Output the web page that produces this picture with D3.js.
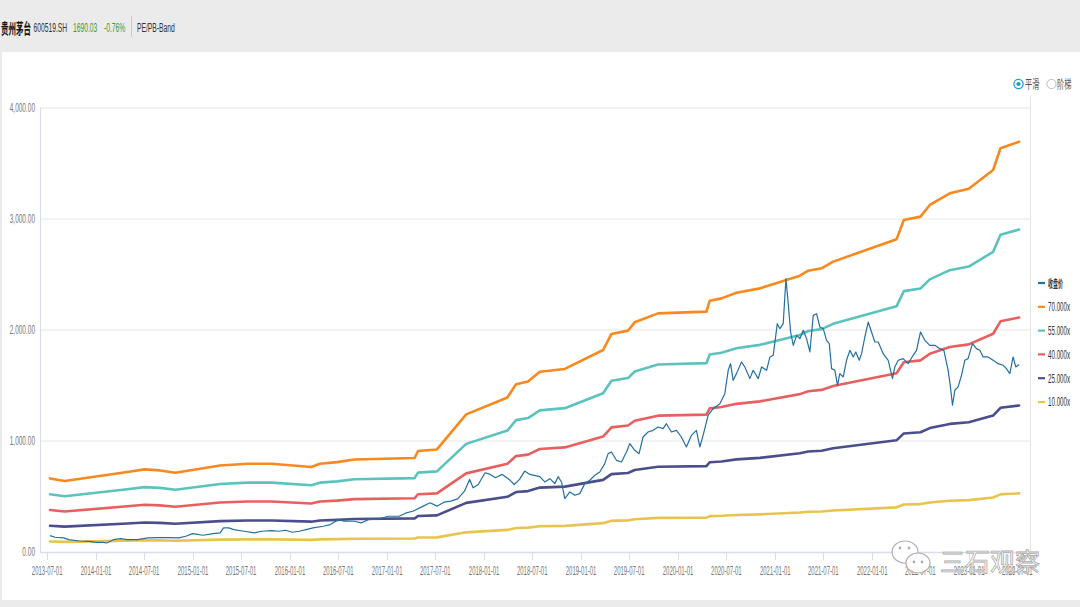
<!DOCTYPE html>
<html><head><meta charset="utf-8">
<script src="https://cdn.jsdelivr.net/npm/d3@7"></script>
<style>
html,body{margin:0;padding:0;background:#fff;}
svg{display:block;font-family:"Liberation Sans","Noto Sans CJK SC",sans-serif;}
</style></head><body>
<svg id="chart" width="1080" height="607"></svg>
<script>
// ---------------- DATA ----------------
const stockName = "贵州茅台";
const stockCode = "600519.SH";
const lastPrice = "1690.03";
const changePct = "-0.76%";
const chartTitle = "PE/PB-Band";
const modeLabels = ["平滑", "阶梯"];

const seriesNames = ["收盘价", "70.000x", "55.000x", "40.000x", "25.000x", "10.000x"];
const multiples = [70, 55, 40, 25, 10];
const seriesColors = ["#23709f", "#f7891f", "#5cc2bd", "#e7605f", "#4a4e8c", "#e8c44e"];

const epsYears = [2013.525, 2013.676, 2014.323, 2014.500, 2014.659, 2014.818, 2015.279, 2015.564, 2015.811, 2016.219, 2016.308, 2016.485, 2016.662, 2017.283, 2017.318, 2017.513, 2017.815, 2018.240, 2018.329, 2018.453, 2018.574, 2018.832, 2019.227, 2019.313, 2019.484, 2019.553, 2019.793, 2020.292, 2020.326, 2020.447, 2020.601, 2020.842, 2021.254, 2021.340, 2021.478, 2021.597, 2022.251, 2022.326, 2022.498, 2022.594, 2022.800, 2022.996, 2023.247, 2023.323, 2023.515];
const eps = [9.47, 9.13, 10.29, 10.63, 10.50, 10.20, 11.14, 11.36, 11.36, 10.93, 11.36, 11.57, 11.91, 12.10, 13.00, 13.20, 17.71, 19.89, 21.60, 21.94, 23.20, 23.56, 26.00, 28.06, 28.49, 29.56, 30.71, 30.93, 32.34, 32.64, 33.37, 33.93, 35.56, 36.20, 36.51, 37.37, 40.24, 42.73, 43.16, 44.66, 46.16, 46.76, 49.16, 51.96, 52.81];

// Close price (adjusted), dates as decimal years
const priceYears = [2013.524,2013.578,2013.666,2013.719,2013.826,2013.932,2014.003,2014.074,2014.109,2014.180,2014.251,2014.322,2014.429,2014.535,2014.641,2014.748,2014.854,2014.925,2014.996,2015.102,2015.209,2015.280,2015.315,2015.368,2015.421,2015.528,2015.634,2015.705,2015.812,2015.883,2015.953,2016.024,2016.095,2016.166,2016.237,2016.343,2016.414,2016.503,2016.556,2016.663,2016.733,2016.804,2016.911,2017.017,2017.124,2017.194,2017.265,2017.372,2017.443,2017.514,2017.585,2017.656,2017.727,2017.797,2017.851,2017.886,2017.939,2018.010,2018.063,2018.116,2018.187,2018.258,2018.311,2018.365,2018.418,2018.471,
2018.574,2018.626,2018.678,2018.729,2018.763,2018.798,2018.832,2018.884,2018.935,2018.987,2019.038,2019.090,2019.141,2019.193,2019.244,2019.279,2019.313,2019.365,2019.416,2019.468,2019.502,2019.554,2019.598,2019.639,2019.691,2019.743,2019.794,2019.846,2019.880,2019.931,2019.983,2020.034,2020.086,2020.138,2020.189,2020.224,2020.258,2020.309,2020.361,2020.430,2020.481,2020.516,2020.540,2020.567,2020.601,2020.653,2020.687,2020.739,2020.773,2020.825,2020.859,2020.911,2020.945,2020.979,2021.021,2021.048,2021.082,2021.110,2021.134,2021.158,2021.186,2021.220,2021.254,2021.289,2021.323,2021.357,2021.392,2021.426,2021.460,2021.495,2021.529,2021.557,2021.581,2021.615,2021.642,2021.666,2021.701,2021.735,2021.770,2021.804,2021.831,2021.866,2021.890,2021.924,2021.959,2021.993,2022.027,2022.062,2022.113,2022.165,2022.209,2022.233,2022.268,2022.319,2022.371,2022.422,2022.457,2022.498,2022.543,2022.594,2022.646,2022.697,2022.739,2022.783,2022.807,2022.828,2022.852,2022.886,2022.921,2022.955,2022.989,2023.034,2023.075,2023.110,2023.144,2023.195,2023.247,2023.298,2023.350,2023.384,2023.419,2023.453,2023.481,2023.515];
const prices = [148,133,127,111,99,96,87,87,81,111,120,111,111,127,130,130,127,142,166,151,166,172,217,217,202,187,172,187,193,187,196,178,187,202,217,232,247,292,277,277,262,292,298,322,322,352,367,413,443,413,449,458,479,548,654,578,608,714,699,669,699,654,608,654,729,699,
679,631,661,616,679,631,481,541,511,526,616,646,691,721,796,886,901,826,811,901,976,916,886,1036,1081,1096,1126,1111,1156,1081,1096,1036,946,1051,1096,946,1051,1231,1291,1336,1426,1637,1697,1547,1607,1712,1667,1562,1637,1562,1667,1637,1757,1772,2057,2012,2057,2462,2237,1982,1862,1952,1922,1997,1922,1802,2132,2147,2027,2012,1907,1877,1652,1637,1502,1607,1577,1727,1817,1757,1802,1727,1787,1937,2072,1982,1892,1892,1787,1727,1562,1667,1727,1742,1697,1772,1817,1982,1907,1862,1862,1832,1817,1637,1487,1322,1457,1487,1592,1727,1742,1877,1832,1817,1757,1757,1727,1697,1682,1652,1607,1757,1667,1690.03];

const yTicks = [0, 1000, 2000, 3000, 4000];
const xTickLabels = ["2013-07-01","2014-01-01","2014-07-01","2015-01-01","2015-07-01","2016-01-01","2016-07-01","2017-01-01","2017-07-01","2018-01-01","2018-07-01","2019-01-01","2019-07-01","2020-01-01","2020-07-01","2021-01-01","2021-07-01","2022-01-01","2022-07-01","2023-01-01","2023-07-01"];
const watermark = "三石观察";

// ---------------- HELPERS ----------------
function decYear(t) {
  const y = Math.floor(t);
  const a = Date.UTC(y, 0, 1), b = Date.UTC(y + 1, 0, 1);
  return new Date(a + (t - y) * (b - a));
}
const svg = d3.select("#chart");
function txt(g, x, y, s, o = {}) {
  const t = g.append("text")
    .attr("transform", `translate(${x},${y}) scale(${o.sx ?? 0.55},1)`)
    .attr("text-anchor", o.anchor || "start")
    .attr("dominant-baseline", "central")
    .attr("font-size", o.size || 12)
    .attr("fill", o.fill || "#666")
    .text(s);
  if (o.weight) t.attr("font-weight", o.weight);
  if (o.family) t.attr("font-family", o.family);
  return t;
}

// ---------------- BACKGROUND / HEADER ----------------
svg.append("rect").attr("x", 0).attr("y", 0).attr("width", 1080).attr("height", 607).attr("fill", "#ebebeb");
svg.append("rect").attr("x", 2).attr("y", 52).attr("width", 1078).attr("height", 548).attr("fill", "#ffffff");

const hdr = svg.append("g");
txt(hdr, 1, 27, stockName, {size: 15, sx: 0.5, fill: "#111", weight: "bold", family: "Noto Sans CJK SC"});
txt(hdr, 33.5, 27, stockCode, {size: 13.5, sx: 0.5, fill: "#333"});
txt(hdr, 73, 27, lastPrice, {size: 13.5, sx: 0.5, fill: "#3a9a3a"});
txt(hdr, 104, 27, changePct, {size: 13.5, sx: 0.5, fill: "#3a9a3a"});
hdr.append("line").attr("x1", 131.5).attr("x2", 131.5).attr("y1", 16).attr("y2", 37).attr("stroke", "#c8c8c8");
txt(hdr, 137, 27, chartTitle, {size: 13.5, sx: 0.5, fill: "#333"});

// radio buttons
const rg = svg.append("g");
rg.append("circle").attr("cx", 1018.5).attr("cy", 84).attr("r", 4.6).attr("fill", "none").attr("stroke", "#1aa0c8").attr("stroke-width", 1.3);
rg.append("circle").attr("cx", 1018.5).attr("cy", 84).attr("r", 2.1).attr("fill", "#1aa0c8");
txt(rg, 1025, 84, modeLabels[0], {size: 12, sx: 0.6, fill: "#555", family: "Noto Sans CJK SC"});
rg.append("circle").attr("cx", 1051.5).attr("cy", 84).attr("r", 4.6).attr("fill", "none").attr("stroke", "#bbbbbb").attr("stroke-width", 1);
txt(rg, 1057, 84, modeLabels[1], {size: 12, sx: 0.6, fill: "#555", family: "Noto Sans CJK SC"});

// ---------------- SCALES ----------------
const x = d3.scaleUtc().domain([new Date(Date.UTC(2013, 5, 4)), new Date(Date.UTC(2023, 7, 18))]).range([40, 1030]);
const y = d3.scaleLinear().domain([0, 4000]).range([552, 108]);

// grid
const grid = svg.append("g");
grid.selectAll("line").data(yTicks.filter(d => d > 0)).join("line")
  .attr("x1", 40).attr("x2", 1030).attr("y1", d => y(d)).attr("y2", d => y(d))
  .attr("stroke", "#e6e6e6").attr("stroke-width", 1);
svg.append("line").attr("x1", 1030.5).attr("x2", 1030.5).attr("y1", 95).attr("y2", 560).attr("stroke", "#e3e3e3");

// y axis
const yax = svg.append("g");
yax.append("line").attr("x1", 40.5).attr("x2", 40.5).attr("y1", 108).attr("y2", 552).attr("stroke", "#d7ddea");
yTicks.forEach(v => txt(yax, 35, y(v), d3.format(",.2f")(v), {size: 12.5, sx: 0.52, anchor: "end", fill: "#777"}));

// x axis
const xax = svg.append("g");
xax.append("line").attr("x1", 40).attr("x2", 1030).attr("y1", 552.5).attr("y2", 552.5).attr("stroke", "#d7ddea").attr("stroke-width", 1.5);
const tickDates = xTickLabels.map(s => d3.utcParse("%Y-%m-%d")(s));
tickDates.forEach((d, i) => {
  const px = Math.round(x(d)) + 0.5;
  xax.append("line").attr("x1", px).attr("x2", px).attr("y1", 552).attr("y2", 560).attr("stroke", "#d7ddea");
  txt(xax, x(d), 571, xTickLabels[i], {size: 12, sx: 0.5, anchor: "middle", fill: "#777"});
});

// ---------------- SERIES ----------------
const line = d3.line().x(d => x(d[0])).y(d => y(d[1]));
const plot = svg.append("g");
multiples.forEach((m, k) => {
  const data = epsYears.map((t, i) => [decYear(t), eps[i] * m]);
  plot.append("path").datum(data).attr("d", line)
    .attr("fill", "none").attr("stroke", seriesColors[k + 1]).attr("stroke-width", 2.6)
    .attr("stroke-linejoin", "round").attr("stroke-linecap", "round");
});
const pdata = priceYears.map((t, i) => [decYear(t), prices[i]]);
plot.append("path").datum(pdata).attr("d", line)
  .attr("fill", "none").attr("stroke", seriesColors[0]).attr("stroke-width", 1.2)
  .attr("stroke-linejoin", "round");

// ---------------- LEGEND ----------------
const lg = svg.append("g");
seriesNames.forEach((n, i) => {
  const cy = 283 + i * 23.8;
  lg.append("line").attr("x1", 1038).attr("x2", 1045).attr("y1", cy).attr("y2", cy)
    .attr("stroke", seriesColors[i]).attr("stroke-width", 2.2);
  txt(lg, 1048, cy, n, {size: i === 0 ? 11 : 12, sx: i === 0 ? 0.45 : 0.52, fill: "#333",
    family: i === 0 ? "Noto Sans CJK SC" : null, weight: i === 0 ? "bold" : null});
});

// ---------------- WATERMARK ----------------
const wm = svg.append("g");
wm.append("ellipse").attr("cx", 905).attr("cy", 552).attr("rx", 13).attr("ry", 11)
  .attr("fill", "rgba(255,255,255,0.85)").attr("stroke", "#b0b0b0").attr("stroke-width", 1.2);
wm.append("ellipse").attr("cx", 918).attr("cy", 563).attr("rx", 12).attr("ry", 10)
  .attr("fill", "rgba(255,255,255,0.9)").attr("stroke", "#b0b0b0").attr("stroke-width", 1.2);
[[900, 548], [909, 548], [914, 562], [922, 562]].forEach(p =>
  wm.append("circle").attr("cx", p[0]).attr("cy", p[1]).attr("r", 1.4).attr("fill", "#b0b0b0"));
wm.append("text").attr("x", 940).attr("y", 571).attr("font-size", 25)
  .attr("font-family", "Noto Sans CJK SC").attr("fill", "rgba(255,255,255,0.85)")
  .attr("stroke", "#aaaaaa").attr("stroke-width", 0.8).text(watermark);
</script></body></html>
